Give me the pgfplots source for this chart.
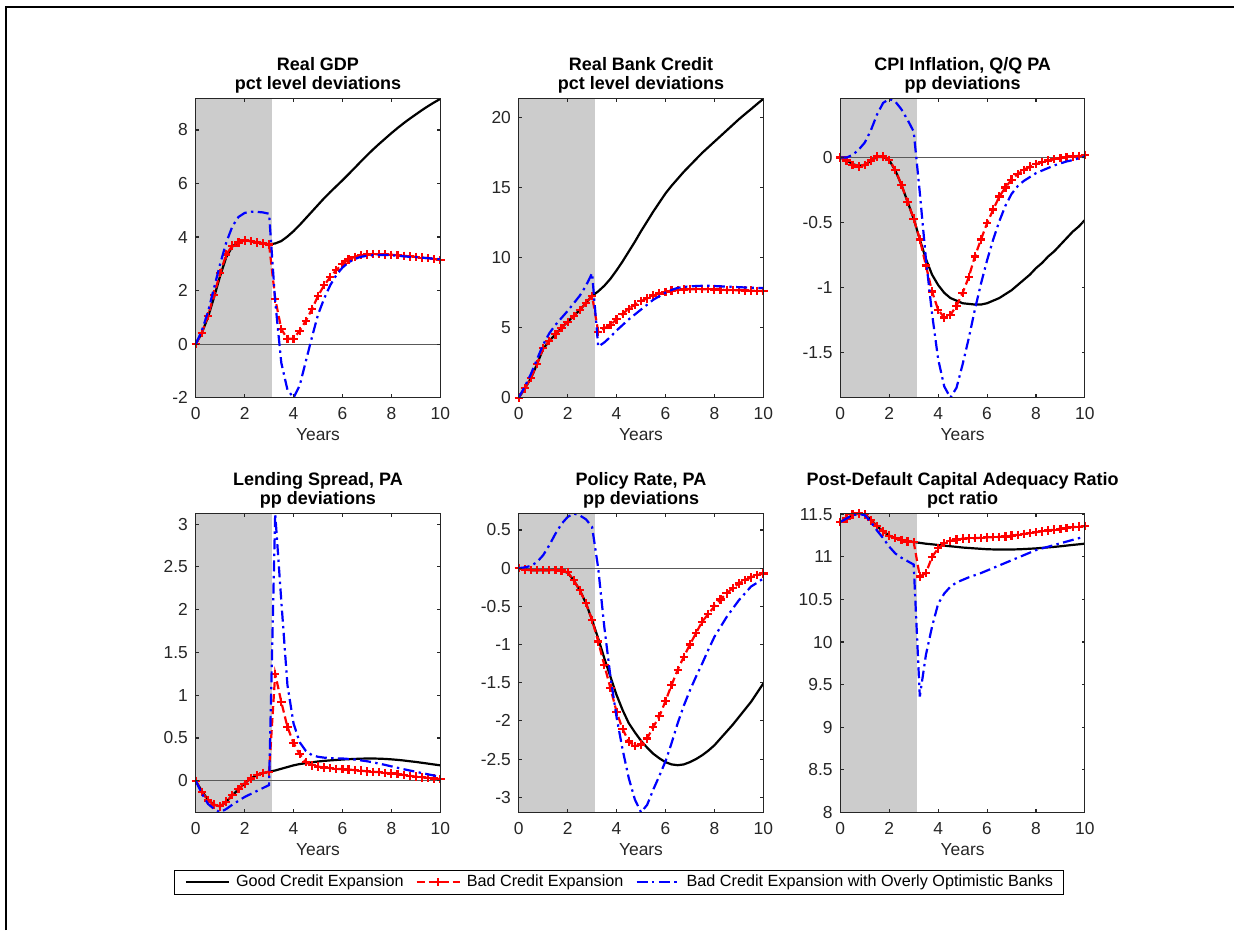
\documentclass[border=0pt]{standalone}
\usepackage{fontspec}
\setmainfont{Liberation Sans}
\usepackage{pgfplots}
\usepackage{pgfplotstable}
\pgfplotsset{compat=1.18}
\definecolor{shade}{RGB}{204,204,204}
\definecolor{axgray}{RGB}{38,38,38}

% quarterly responses: t in years
\pgfplotstableread{
t     good    bad     opt
0     0       0       0
0.25  0.42    0.42    0.5
0.5   1.0     1.05    1.2
0.75  1.75    1.85    2.1
1.0   2.55    2.65    3.0
1.25  3.25    3.35    3.8
1.5   3.65    3.68    4.4
1.75  3.8     3.8     4.75
2.0   3.87    3.87    4.9
2.25  3.85    3.85    4.95
2.5   3.8     3.8     4.94
2.75  3.77    3.76    4.92
3.0   3.73    3.72    4.87
3.25  3.76    1.7     1.6
3.5   3.85    0.56    -0.7
3.75  4.02    0.2     -1.7
4.0   4.22    0.2     -2.0
4.25  4.45    0.5     -1.55
4.5   4.7     0.87    -0.65
4.75  4.95    1.3     0.25
5.0   5.2     1.8     1.1
5.25  5.45    2.2     1.7
5.5   5.68    2.5     2.2
5.75  5.9     2.77    2.58
6.0   6.12    3.0     2.86
6.25  6.35    3.16    3.05
6.5   6.58    3.26    3.18
6.75  6.82    3.32    3.26
7.0   7.05    3.35    3.3
7.25  7.27    3.36    3.32
7.5   7.48    3.36    3.33
7.75  7.68    3.35    3.33
8.0   7.88    3.34    3.32
8.25  8.07    3.32    3.3
8.5   8.25    3.3     3.28
8.75  8.42    3.28    3.26
9.0   8.58    3.26    3.25
9.25  8.74    3.23    3.23
9.5   8.89    3.21    3.21
9.75  9.03    3.18    3.19
10    9.16    3.15    3.17
}\gdp

\pgfplotstableread{
t     good    bad     opt
0     0       0       0
0.25  0.65    0.67    0.8
0.5   1.4     1.4     1.7
0.75  2.4     2.4     2.75
1.0   3.5     3.55    3.8
1.25  4.05    4.05    4.6
1.5   4.53    4.53    5.2
1.75  5.0     5.0     5.7
2.0   5.43    5.43    6.2
2.25  5.84    5.84    6.75
2.5   6.27    6.27    7.3
2.75  6.78    6.78    8.0
3.0   7.28    7.28    8.9
3.25  7.6     4.72    3.65
3.5   8.0     4.96    3.95
3.75  8.5     5.2     4.35
4.0   9.1     5.6     4.8
4.25  9.75    6.0     5.2
4.5   10.45   6.35    5.6
4.75  11.15   6.65    5.95
5.0   11.9    6.9     6.3
5.25  12.6    7.1     6.65
5.5   13.3    7.3     7.0
5.75  13.95   7.45    7.25
6.0   14.6    7.57    7.5
6.25  15.15   7.65    7.7
6.5   15.65   7.7     7.85
6.75  16.15   7.73    7.92
7.0   16.6    7.75    7.96
7.25  17.05   7.76    7.98
7.5   17.5    7.76    8.0
7.75  17.9    7.75    8.0
8.0   18.3    7.74    7.98
8.25  18.7    7.72    7.96
8.5   19.1    7.7     7.94
8.75  19.5    7.69    7.92
9.0   19.9    7.68    7.9
9.25  20.27   7.66    7.88
9.5   20.63   7.65    7.87
9.75  21.0    7.64    7.85
10    21.36   7.63    7.84
}\credit

\pgfplotstableread{
t     good    bad     opt
0     0       0       0
0.25  -0.02   -0.023  0.0
0.5   -0.05   -0.056  0.02
0.75  -0.065  -0.07   0.06
1.0   -0.055  -0.056  0.115
1.25  -0.025  -0.023  0.21
1.5   0.005   0.008   0.33
1.75  0.005   0.008   0.42
2.0   -0.02   -0.018  0.451
2.25  -0.1    -0.095  0.43
2.5   -0.21   -0.21   0.37
2.75  -0.34   -0.34   0.29
3.0   -0.47   -0.47   0.2
3.25  -0.63   -0.63   -0.27
3.5   -0.78   -0.83   -0.78
3.75  -0.9    -1.03   -1.2
4.0   -0.98   -1.17   -1.55
4.25  -1.04   -1.23   -1.76
4.5   -1.08   -1.21   -1.846
4.75  -1.1    -1.14   -1.77
5.0   -1.12   -1.04   -1.59
5.25  -1.125  -0.92   -1.39
5.5   -1.13   -0.76   -1.17
5.75  -1.13   -0.63   -0.97
6.0   -1.12   -0.505  -0.79
6.25  -1.1    -0.4    -0.63
6.5   -1.08   -0.3    -0.49
6.75  -1.05   -0.23   -0.37
7.0   -1.02   -0.17   -0.28
7.25  -0.98   -0.128  -0.22
7.5   -0.94   -0.095  -0.18
7.75  -0.9    -0.07   -0.15
8.0   -0.85   -0.05   -0.12
8.25  -0.81   -0.035  -0.1
8.5   -0.76   -0.023  -0.08
8.75  -0.72   -0.013  -0.06
9.0   -0.67   -0.005  -0.045
9.25  -0.62   0.003   -0.03
9.5   -0.57   0.008   -0.02
9.75  -0.53   0.013   -0.005
10    -0.48   0.02    0.008
}\cpi

\pgfplotstableread{
t     good    bad     opt
0     0       0       0
0.25  -0.12   -0.13   -0.15
0.5   -0.22   -0.23   -0.27
0.75  -0.28   -0.28   -0.33
1.0   -0.3    -0.3    -0.369
1.25  -0.245  -0.245  -0.33
1.5   -0.17   -0.17   -0.28
1.75  -0.1    -0.1    -0.235
2.0   -0.03   -0.035  -0.19
2.25  0.025   0.027   -0.155
2.5   0.065   0.066   -0.12
2.75  0.09    0.093   -0.085
3.0   0.105   0.105   -0.05
3.25  0.12    1.25    3.125
3.5   0.14    0.92    2.1
3.75  0.16    0.63    1.12
4.0   0.18    0.44    0.67
4.25  0.195   0.31    0.45
4.5   0.205   0.22    0.35
4.75  0.215   0.18    0.3
5.0   0.225   0.165   0.28
5.25  0.232   0.155   0.27
5.5   0.238   0.148   0.265
5.75  0.243   0.14    0.262
6.0   0.248   0.135   0.26
6.25  0.252   0.13    0.255
6.5   0.255   0.125   0.248
6.75  0.258   0.118   0.238
7.0   0.26    0.11    0.228
7.25  0.26    0.105   0.215
7.5   0.258   0.1     0.2
7.75  0.255   0.092   0.185
8.0   0.25    0.085   0.168
8.25  0.244   0.077   0.152
8.5   0.237   0.068   0.135
8.75  0.228   0.058   0.12
9.0   0.22    0.048   0.105
9.25  0.21    0.04    0.09
9.5   0.2     0.033   0.075
9.75  0.19    0.026   0.06
10    0.18    0.02    0.047
}\spread

\pgfplotstableread{
t     good    bad     opt
0     0       0       0
0.25  -0.02   -0.02   0.01
0.5   -0.026  -0.026  0.03
0.75  -0.027  -0.027  0.08
1.0   -0.027  -0.027  0.17
1.25  -0.026  -0.026  0.3
1.5   -0.024  -0.024  0.45
1.75  -0.03   -0.03   0.58
2.0   -0.06   -0.05   0.67
2.25  -0.16   -0.16   0.716
2.5   -0.29   -0.29   0.69
2.75  -0.46   -0.46   0.64
3.0   -0.68   -0.68   0.54
3.25  -0.92   -0.96   0.0
3.5   -1.18   -1.27   -0.77
3.75  -1.42   -1.57   -1.42
4.0   -1.66   -1.88   -1.95
4.25  -1.86   -2.11   -2.38
4.5   -2.03   -2.27   -2.75
4.75  -2.15   -2.33   -3.03
5.0   -2.26   -2.31   -3.197
5.25  -2.35   -2.23   -3.1
5.5   -2.43   -2.08   -2.9
5.75  -2.49   -1.94   -2.72
6.0   -2.54   -1.74   -2.53
6.25  -2.57   -1.53   -2.29
6.5   -2.58   -1.33   -2.03
6.75  -2.57   -1.16   -1.8
7.0   -2.54   -1.0    -1.6
7.25  -2.5    -0.85   -1.42
7.5   -2.45   -0.7    -1.25
7.75  -2.39   -0.6    -1.07
8.0   -2.32   -0.5    -0.9
8.25  -2.23   -0.41   -0.77
8.5   -2.14   -0.33   -0.64
8.75  -2.05   -0.26   -0.53
9.0   -1.95   -0.2    -0.42
9.25  -1.85   -0.157  -0.33
9.5   -1.75   -0.12   -0.24
9.75  -1.63   -0.09   -0.19
10    -1.51   -0.07   -0.135
}\policy

\pgfplotstableread{
t     good    bad     opt
0     11.41   11.41   11.41
0.25  11.45   11.45   11.45
0.5   11.49   11.5    11.49
0.75  11.51   11.51   11.505
1.0   11.5    11.5    11.49
1.25  11.44   11.43   11.41
1.5   11.36   11.36   11.31
1.75  11.3    11.3    11.22
2.0   11.25   11.25   11.12
2.25  11.22   11.22   11.04
2.5   11.2    11.2    10.99
2.75  11.185  11.18   10.95
3.0   11.175  11.175  10.91
3.25  11.165  10.77   9.36
3.5   11.155  10.81   9.85
3.75  11.148  11.0    10.18
4.0   11.14   11.1    10.45
4.25  11.132  11.16   10.57
4.5   11.125  11.19   10.65
4.75  11.118  11.205  10.7
5.0   11.11   11.215  10.73
5.25  11.105  11.218  10.76
5.5   11.1    11.22   10.785
5.75  11.095  11.225  10.81
6.0   11.09   11.23   10.84
6.25  11.088  11.232  10.87
6.5   11.086  11.235  10.9
6.75  11.086  11.24   10.93
7.0   11.087  11.25   10.96
7.25  11.089  11.26   10.99
7.5   11.092  11.27   11.02
7.75  11.096  11.28   11.05
8.0   11.1    11.29   11.08
8.25  11.106  11.3    11.1
8.5   11.112  11.31   11.12
8.75  11.118  11.32   11.14
9.0   11.125  11.33   11.16
9.25  11.133  11.34   11.18
9.5   11.141  11.35   11.2
9.75  11.148  11.355  11.22
10    11.156  11.36   11.24
}\car

\pgfplotsset{
  panel/.style={
    scale only axis, width=122.3pt, height=149.4pt,
    xmin=0, xmax=10, xtick={0,2,4,6,8,10}, xticklabels={0,2,4,6,8,10},
    tick align=inside, tick pos=both, major tick length=1.7pt,
    axis on top, clip mode=individual,
    axis line style={axgray, line width=0.55pt},
    every tick/.style={axgray, line width=0.55pt},
    tick label style={font=\fontsize{8.7}{9}\selectfont, text=axgray, inner sep=0pt},
    xticklabel style={anchor=base, yshift=-11pt},
    yticklabel style={anchor=east, xshift=-3.7pt},
    xlabel={Years},
    xlabel style={font=\fontsize{8.7}{9}\selectfont, text=axgray,
      at={(axis description cs:0.5,0)}, anchor=base, yshift=-21.5pt, inner sep=0pt},
    title style={font=\bfseries\fontsize{9}{9.5}\selectfont, align=center,
      at={(axis description cs:0.5,1)}, anchor=south, yshift=-3.4pt, inner sep=0pt},
  },
  good/.style={black, line width=1.1pt},
  bad/.style={red, line width=1.1pt, dash pattern=on 4pt off 2pt,
    mark=+, mark size=2.1pt, mark options={solid, line width=1.1pt}},
  opt/.style={blue, line width=1.1pt, dash pattern=on 5.5pt off 2.2pt on 1.2pt off 2.2pt},
  zeroline/.style={black!65, line width=0.55pt, forget plot},
}

\newcommand{\shadebox}[2]{\addplot[fill=shade, draw=none, forget plot]
  coordinates {(0,#1) (3.125,#1) (3.125,#2) (0,#2)};}

\begin{document}
\begin{tikzpicture}
\useasboundingbox (0,0) rectangle (617pt,465pt);
\draw[line width=1.15pt] (3.1pt,0pt) -- (3.1pt,461.6pt) -- (617pt,461.6pt);

% top row
\begin{axis}[panel, at={(97.85pt,266.15pt)}, anchor=south west,
  ymin=-2, ymax=9.16, ytick={-2,0,2,4,6,8}, yticklabels={-2,0,2,4,6,8},
  title={Real GDP\\pct level deviations}]
\shadebox{-2}{9.16}
\addplot[zeroline] coordinates {(0,0) (10,0)};
\addplot[good] table[x=t,y=good] {\gdp};
\addplot[bad] table[x=t,y=bad] {\gdp};
\addplot[opt] table[x=t,y=opt] {\gdp};
\end{axis}

\begin{axis}[panel, at={(259.35pt,266.15pt)}, anchor=south west,
  ymin=0, ymax=21.36, ytick={0,5,10,15,20}, yticklabels={0,5,10,15,20},
  title={Real Bank Credit\\pct level deviations}]
\shadebox{0}{21.36}
\addplot[good] table[x=t,y=good] {\credit};
\addplot[bad] table[x=t,y=bad] {\credit};
\addplot[opt] table[x=t,y=opt] {\credit};
\end{axis}

\begin{axis}[panel, at={(420.15pt,266.15pt)}, anchor=south west,
  ymin=-1.846, ymax=0.451, ytick={-1.5,-1,-0.5,0}, yticklabels={-1.5,-1,-0.5,0},
  title={CPI Inflation, Q/Q PA\\pp deviations}]
\shadebox{-1.846}{0.451}
\addplot[zeroline] coordinates {(0,0) (10,0)};
\addplot[good] table[x=t,y=good] {\cpi};
\addplot[bad] table[x=t,y=bad] {\cpi};
\addplot[opt] table[x=t,y=opt] {\cpi};
\end{axis}

% bottom row
\begin{axis}[panel, at={(97.85pt,58.85pt)}, anchor=south west,
  ymin=-0.369, ymax=3.125, ytick={0,0.5,1,1.5,2,2.5,3},
  yticklabels={0,0.5,1,1.5,2,2.5,3},
  title={Lending Spread, PA\\pp deviations},
  legend columns=3,
  legend image code/.code={\draw[mark repeat=2,mark phase=2,#1]
    plot coordinates {(0pt,0pt) (10.75pt,0pt) (21.5pt,0pt)};},
  legend style={at={(axis description cs:-0.0872,-0.193)}, anchor=north west,
    draw=black, line width=0.5pt, inner xsep=5pt, inner ysep=2.2pt,
    font=\fontsize{8.1}{9}\selectfont, nodes={inner sep=0pt},
    /tikz/every odd column/.append style={column sep=3pt},
    /tikz/every even column/.append style={column sep=6pt}}]
\shadebox{-0.369}{3.125}
\addplot[zeroline] coordinates {(0,0) (10,0)};
\addplot[good] table[x=t,y=good] {\spread};
\addplot[bad] table[x=t,y=bad] {\spread};
\addplot[opt] table[x=t,y=opt] {\spread};
\legend{Good Credit Expansion, Bad Credit Expansion, Bad Credit Expansion with Overly Optimistic Banks}
\end{axis}

\begin{axis}[panel, at={(259.35pt,58.85pt)}, anchor=south west,
  ymin=-3.197, ymax=0.716, ytick={-3,-2.5,-2,-1.5,-1,-0.5,0,0.5},
  yticklabels={-3,-2.5,-2,-1.5,-1,-0.5,0,0.5},
  title={Policy Rate, PA\\pp deviations}]
\shadebox{-3.197}{0.716}
\addplot[zeroline] coordinates {(0,0) (10,0)};
\addplot[good] table[x=t,y=good] {\policy};
\addplot[bad] table[x=t,y=bad] {\policy};
\addplot[opt] table[x=t,y=opt] {\policy};
\end{axis}

\begin{axis}[panel, at={(420.15pt,58.85pt)}, anchor=south west,
  ymin=8, ymax=11.51, ytick={8,8.5,9,9.5,10,10.5,11,11.5},
  yticklabels={8,8.5,9,9.5,10,10.5,11,11.5},
  title={Post-Default Capital Adequacy Ratio\\pct ratio}]
\shadebox{8}{11.51}
\addplot[good] table[x=t,y=good] {\car};
\addplot[bad] table[x=t,y=bad] {\car};
\addplot[opt] table[x=t,y=opt] {\car};
\end{axis}
\end{tikzpicture}
\end{document}
